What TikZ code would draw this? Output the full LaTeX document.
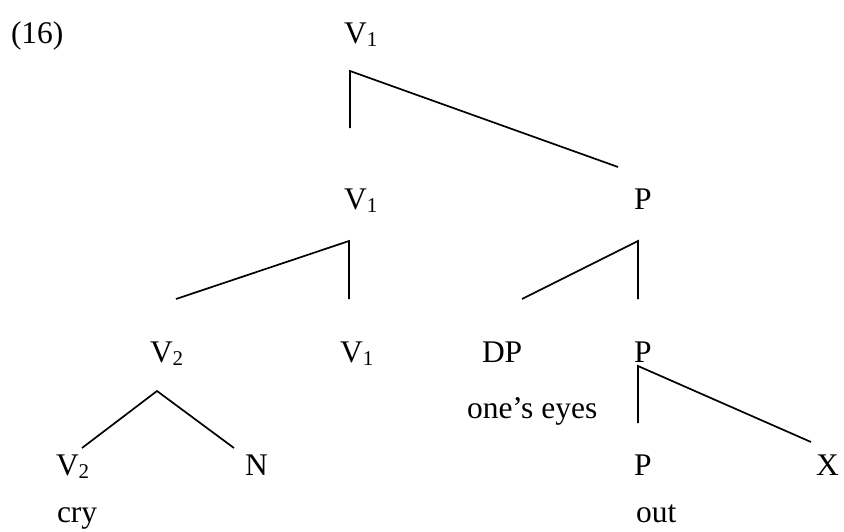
\documentclass[tikz,border=0pt]{standalone}
\usepackage{fontspec}
\setmainfont{Liberation Serif}
\newcommand\sbx[1]{\raisebox{-0.12em}{\fontsize{21}{21}\selectfont #1}}
\tikzset{
  lbl/.style={anchor=base west, inner sep=0pt, outer sep=0pt, font=\fontsize{31.5}{33}\selectfont},
  br/.style={line width=1.7pt, line cap=butt, line join=miter}
}
\begin{document}
\begin{tikzpicture}[x=1pt,y=-1pt]
\useasboundingbox (0,0) rectangle (844,531);
% labels
\node[lbl] (ex) at (11,43) {(16)};
\node[lbl] (v1a) at (344,43) {V\sbx{1}};
\node[lbl] (v1b) at (344,209) {V\sbx{1}};
\node[lbl] (pa) at (634,209) {P};
\node[lbl] (v2a) at (150,362) {V\sbx{2}};
\node[lbl] (v1c) at (340,362) {V\sbx{1}};
\node[lbl] (dp) at (482,362) {DP};
\node[lbl] (pb) at (634,362) {P};
\node[lbl] (eyes) at (467,418) {one’s eyes};
\node[lbl] (v2b) at (56,475) {V\sbx{2}};
\node[lbl] (n) at (245,475) {N};
\node[lbl] (pc) at (634,475) {P};
\node[lbl] (x) at (816,475) {X};
\node[lbl] (cry) at (57,522) {cry};
\node[lbl] (out) at (636,522) {out};
% branch points
\coordinate (a1) at (350,71);  \coordinate (b1) at (350,128); \coordinate (c1) at (618,167);
\coordinate (a2) at (349,241); \coordinate (b2) at (349,299); \coordinate (c2) at (176,299);
\coordinate (a3) at (638,241); \coordinate (b3) at (638,299); \coordinate (c3) at (522,299);
\coordinate (a4) at (157,391); \coordinate (b4) at (82,448);  \coordinate (c4) at (234,448);
\coordinate (a5) at (638,366); \coordinate (b5) at (638,423); \coordinate (c5) at (811,442);
\draw[br] (b1) -- (a1) -- (c1);
\draw[br] (c2) -- (a2) -- (b2);
\draw[br] (c3) -- (a3) -- (b3);
\draw[br] (b4) -- (a4) -- (c4);
\draw[br] (b5) -- (a5) -- (c5);
\end{tikzpicture}
\end{document}
